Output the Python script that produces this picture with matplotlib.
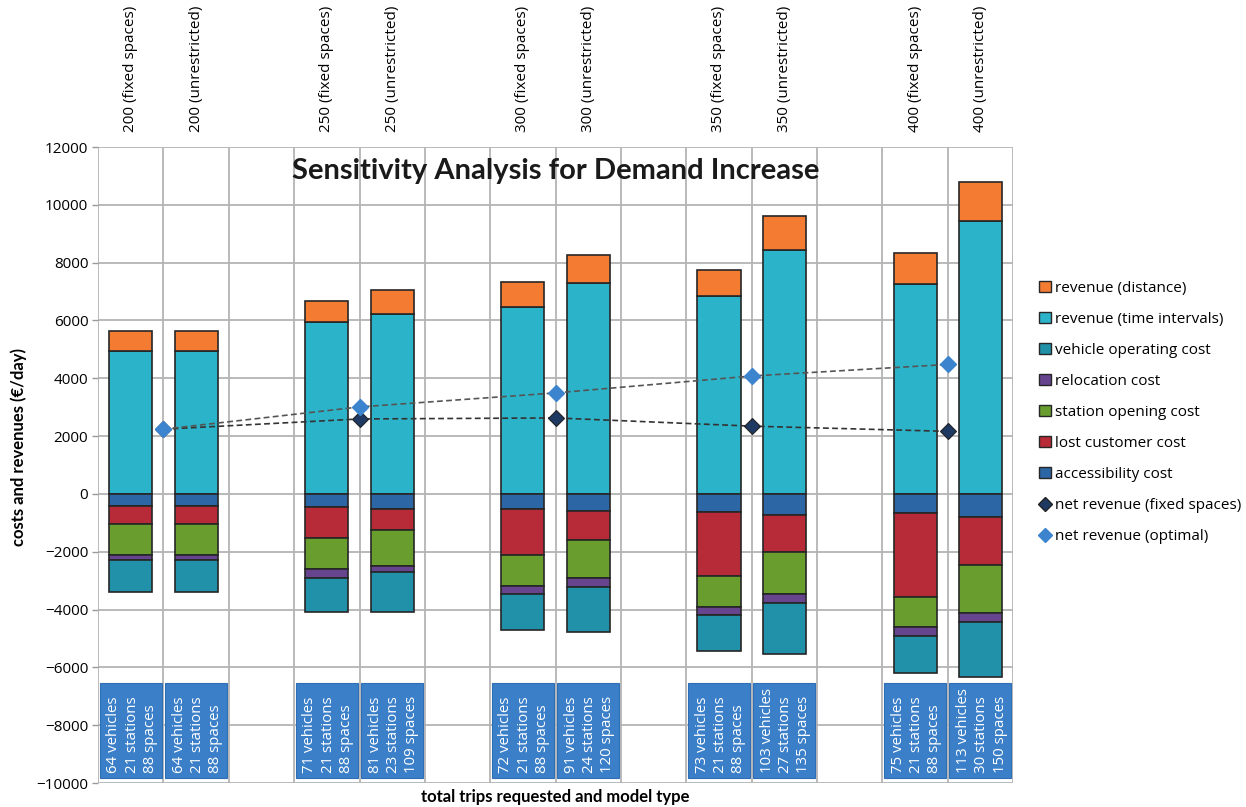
# Sensitivity analysis for demand increase (stacked bars + net revenue markers)

import numpy as np
import matplotlib.pyplot as plt
from matplotlib.patches import Rectangle
from matplotlib.lines import Line2D
from matplotlib.patches import Patch

plt.rcParams["font.family"] = ["Open Sans", "DejaVu Sans"]

# Data

demand = [200, 250, 300, 350, 400]

bar_labels = [
    "200 (fixed spaces)", "200 (unrestricted)",
    "250 (fixed spaces)", "250 (unrestricted)",
    "300 (fixed spaces)", "300 (unrestricted)",
    "350 (fixed spaces)", "350 (unrestricted)",
    "400 (fixed spaces)", "400 (unrestricted)",
]

box_labels = [
    "64 vehicles\n21 stations\n88 spaces",
    "64 vehicles\n21 stations\n88 spaces",
    "71 vehicles\n21 stations\n88 spaces",
    "81 vehicles\n23 stations\n109 spaces",
    "72 vehicles\n21 stations\n88 spaces",
    "91 vehicles\n24 stations\n120 spaces",
    "73 vehicles\n21 stations\n88 spaces",
    "103 vehicles\n27 stations\n135 spaces",
    "75 vehicles\n21 stations\n88 spaces",
    "113 vehicles\n30 stations\n150 spaces",
]

rev_distance = [685, 685, 749, 842, 865, 979, 928, 1176, 1065, 1361]
rev_time = [4935, 4935, 5938, 6226, 6458, 7299, 6832, 8428, 7277, 9443]
accessibility = [400, 400, 461, 519, 519, 588, 619, 743, 644, 804]
lost_customer = [623, 623, 1061, 738, 1580, 1014, 2203, 1250, 2908, 1671]
station_opening = [1072, 1072, 1072, 1233, 1072, 1314, 1077, 1472, 1064, 1646]
relocation = [194, 194, 300, 208, 299, 311, 284, 322, 310, 310]
vehicle_operating = [1086, 1086, 1198, 1372, 1224, 1536, 1263, 1745, 1262, 1906]

net_fixed = [2240, 2594, 2629, 2345, 2165]
net_optimal = [2240, 3010, 3495, 4080, 4480]

# Colours

c_dist = "#F47C32"
c_time = "#2AB3C9"
c_veh = "#2190A9"
c_reloc = "#67448E"
c_station = "#699D2E"
c_lost = "#B72A38"
c_access = "#2D66A5"
c_fixed = "#1F3A62"
c_opt = "#3C84CE"
c_box = "#3B7FC9"

# Layout: two bars per demand level, one empty slot between groups
x = np.array([3 * g + k for g in range(len(demand)) for k in (0, 1)])
x_mark = np.array([3 * g + 0.5 for g in range(len(demand))])
w = 0.66

fig = plt.figure(figsize=(12.46, 8.07), dpi=100)
ax = fig.add_axes([0.0787, 0.0297, 0.7344, 0.7881])

edge = dict(edgecolor="#262626", linewidth=1.2, zorder=3)

time_a = np.array(rev_time)
ax.bar(x, time_a, w, color=c_time, **edge)
ax.bar(x, rev_distance, w, bottom=time_a, color=c_dist, **edge)

bottom = np.zeros(len(x))
for vals, col in [(accessibility, c_access), (lost_customer, c_lost),
                  (station_opening, c_station), (relocation, c_reloc),
                  (vehicle_operating, c_veh)]:
    v = -np.array(vals)
    ax.bar(x, v, w, bottom=bottom, color=col, **edge)
    bottom = bottom + v

ax.plot(x_mark, net_fixed, linestyle=(0, (3.5, 2)), color="#333333",
        linewidth=1.2, marker="D", markersize=8, markerfacecolor=c_fixed,
        markeredgecolor="#222222", markeredgewidth=0.8, zorder=4)
ax.plot(x_mark, net_optimal, linestyle=(0, (3.5, 2)), color="#555555",
        linewidth=1.2, marker="D", markersize=8, markerfacecolor=c_opt,
        markeredgecolor=c_opt, zorder=5)

# label boxes at the bottom
for xi, lab in zip(x, box_labels):
    ax.add_patch(Rectangle((xi - 0.475, -9820), 0.95, 3270,
                           facecolor=c_box, edgecolor="#2F6EB4",
                           linewidth=0.8, zorder=3))
    ax.text(xi + 0.02, -9640, lab, rotation=90, ha="center", va="bottom",
            multialignment="left", color="white", fontsize=10.8,
            linespacing=1.3, zorder=4)

ax.set_xlim(-0.5, 13.5)
ax.set_ylim(-10000, 12000)
ax.set_yticks(np.arange(-10000, 12001, 2000))
ax.tick_params(axis="y", labelsize=11, length=4, color="#999999", width=1,
               pad=3)

ax.xaxis.tick_top()
ax.set_xticks(x)
ax.set_xticklabels(bar_labels, rotation=90, fontsize=11)
ax.tick_params(axis="x", which="major", length=0, pad=11)
ax.set_xticks(np.arange(-0.5, 14, 1), minor=True)
ax.tick_params(axis="x", which="minor", length=0)

ax.grid(which="minor", axis="x", color="#B4B4B4", linewidth=1.3)
ax.grid(which="major", axis="y", color="#B4B4B4", linewidth=1.3)
ax.set_axisbelow(True)
for s in ax.spines.values():
    s.set_visible(False)

ax.text(0.5, 0.962, "Sensitivity Analysis for Demand Increase",
        transform=ax.transAxes, ha="center", va="center",
        fontsize=21, fontweight="bold", family="Lato", color="#1a1a1a")

fig.text(0.0787 + 0.7344 / 2, 0.012, "total trips requested and model type",
         ha="center", va="center", fontsize=12, fontweight="bold",
         family="Lato")
fig.text(0.015, 0.446, "costs and revenues (€/day)", rotation=90,
         ha="center", va="center", fontsize=12, fontweight="bold",
         family="Lato")

handles = [
    Patch(facecolor=c_dist, edgecolor="#262626", label="revenue (distance)"),
    Patch(facecolor=c_time, edgecolor="#262626", label="revenue (time intervals)"),
    Patch(facecolor=c_veh, edgecolor="#262626", label="vehicle operating cost"),
    Patch(facecolor=c_reloc, edgecolor="#262626", label="relocation cost"),
    Patch(facecolor=c_station, edgecolor="#262626", label="station opening cost"),
    Patch(facecolor=c_lost, edgecolor="#262626", label="lost customer cost"),
    Patch(facecolor=c_access, edgecolor="#262626", label="accessibility cost"),
    Line2D([], [], linestyle="none", marker="D", markersize=7,
           markerfacecolor=c_fixed, markeredgecolor="#222222",
           label="net revenue (fixed spaces)"),
    Line2D([], [], linestyle="none", marker="D", markersize=7,
           markerfacecolor=c_opt, markeredgecolor=c_opt,
           label="net revenue (optimal)"),
]
fig.legend(handles=handles, loc="center left", bbox_to_anchor=(0.823, 0.489),
           frameon=False, fontsize=11, handlelength=0.75, handleheight=0.75,
           handletextpad=0.3, labelspacing=1.05)

plt.savefig("out.png", dpi=100)
